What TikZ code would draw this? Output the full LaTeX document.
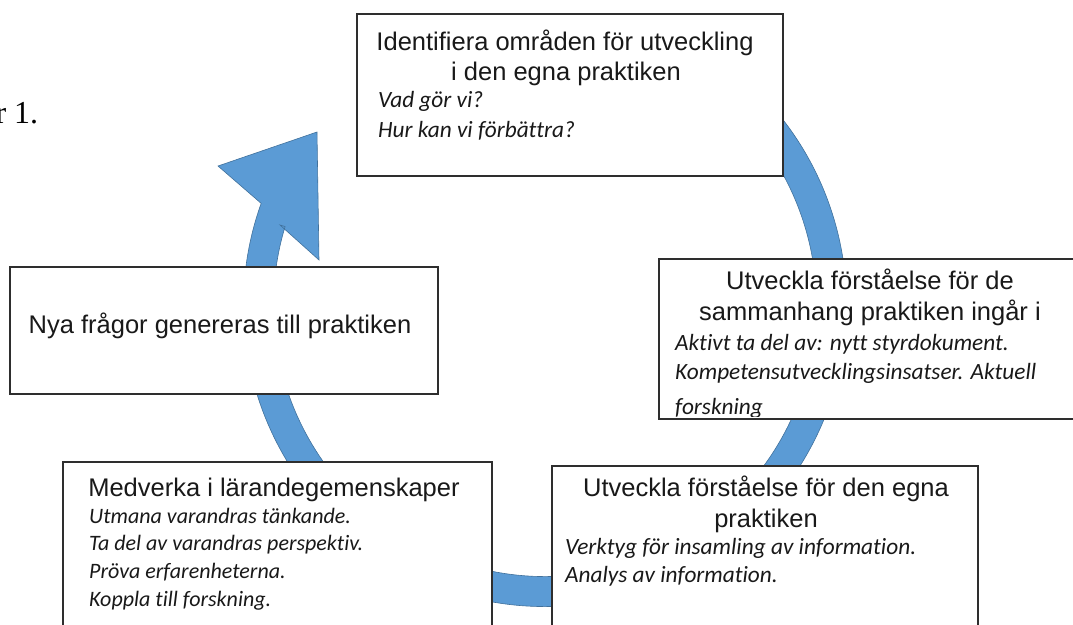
\documentclass[tikz,border=0pt]{standalone}
\usepackage{fontspec}
\setmainfont{Liberation Sans}
\newfontfamily\calfont[Ligatures={NoCommon}]{Carlito}
\newfontfamily\serfont{Liberation Serif}
\usetikzlibrary{calc}
\definecolor{bandblue}{HTML}{5B9BD5}
\definecolor{bandedge}{HTML}{41719C}
\tikzset{
  box/.style={draw=black!82, line width=1.4pt, fill=white, rectangle, inner sep=0pt},
  ttl/.style={font=\fontsize{25.5}{30}\selectfont, anchor=base, inner sep=0pt, text=black!90},
  itl/.style={font=\calfont\itshape\fontsize{23.3}{28}\selectfont, anchor=base west, inner sep=0pt, text=black!90},
  itls/.style={itl, font=\calfont\itshape\fontsize{22}{28}\selectfont},
  band/.style={fill=bandblue, draw=bandedge, line width=0.6pt}
}
\begin{document}
\begin{tikzpicture}[x=1pt,y=1pt]
\useasboundingbox (0,0) rectangle (1073,-624);
\clip (0,0) rectangle (1073,-624);

\node[anchor=base west, inner sep=0pt, font=\serfont\fontsize{32}{32}\selectfont] (fig) at (-4.7,-123) {r 1.};

% circular arrow
\coordinate (C) at (545,-305);
\coordinate (barbL) at (218,-166);
\coordinate (tip) at (317,-132);
\coordinate (barbR) at (319,-260);
\coordinate (notchI) at (280,-225);
\path[band] ([shift={(60:301.5pt)}]C) arc[start angle=60, end angle=-199.7, radius=301.5pt]
  -- (barbL) -- (tip) -- (barbR) -- (notchI)
  -- ([shift={(163.2:271.5pt)}]C) arc[start angle=-196.8, end angle=60, radius=271.5pt] -- cycle;

% boxes
\node[box, minimum width=426pt, minimum height=162pt] (top) at (570,-95) {};
\node[box, minimum width=422pt, minimum height=160pt] (right) at (870,-339) {};
\node[box, minimum width=428pt, minimum height=127pt] (left) at (224,-330.5) {};
\node[box, minimum width=429pt, minimum height=190pt] (botleft) at (277.5,-557) {};
\node[box, minimum width=426pt, minimum height=190pt] (botright) at (765,-561) {};

% top box text
\node[ttl] (t1) at (565,-50) {Identifiera områden för utveckling};
\node[ttl] (t2) at (566,-80) {i den egna praktiken};
\node[itl] (t3) at (378,-107) {Vad gör vi?};
\node[itl] (t4) at (378,-137) {Hur kan vi förbättra?};

% right box text
\node[ttl] (r1) at (870,-289) {Utveckla förståelse för de};
\node[ttl] (r2) at (870,-320) {sammanhang praktiken ingår i};
\node[itl] (r3) at (675,-350) {Aktivt ta del av: nytt styrdokument.};
\node[itl] (r4) at (675,-379.5) {Kompetensutvecklingsinsatser. Aktuell};
\begin{scope}
\clip (659,-259) rectangle (1081,-416.5);
\node[itl] (r5) at (675,-414) {forskning};
\end{scope}

% left box text
\node[ttl] (l1) at (220,-333) {Nya frågor genereras till praktiken};

% bottom left text
\node[ttl] (bl1) at (274,-496) {Medverka i lärandegemenskaper};
\node[itls] (bl2) at (89,-523) {Utmana varandras tänkande.};
\node[itls] (bl3) at (89,-550.5) {Ta del av varandras perspektiv.};
\node[itls] (bl4) at (89,-578) {Pröva erfarenheterna.};
\node[itls] (bl5) at (89,-606) {Koppla till forskning.};

% bottom right text
\node[ttl] (br1) at (766,-496) {Utveckla förståelse för den egna};
\node[ttl] (br2) at (766,-527) {praktiken};
\node[itl] (br3) at (565,-554) {Verktyg för insamling av information.};
\node[itl] (br4) at (565,-582) {Analys av information.};
\end{tikzpicture}
\end{document}
